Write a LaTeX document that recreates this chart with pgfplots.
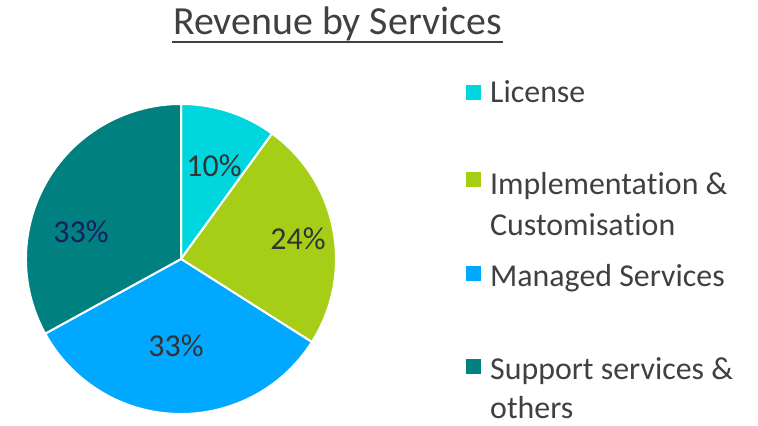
\documentclass[border=0pt]{standalone}
\usepackage{pgfplots}
\pgfplotsset{compat=1.18}
\usepackage{fontspec}
\setmainfont{Carlito}[RawFeature={-liga;-clig;-dlig;-rlig;-calt}]

\definecolor{lic}{HTML}{00D6DD}
\definecolor{imp}{HTML}{A6CE17}
\definecolor{man}{HTML}{00A8FF}
\definecolor{sup}{HTML}{00807F}
\definecolor{txt}{HTML}{404040}
\definecolor{pct}{HTML}{333333}
\definecolor{navy}{HTML}{1C1C60}

% slice: #1 share before it (%), #2 share (%), #3 colour; clockwise from the top
\newcommand{\pieslice}[3]{%
  \filldraw[fill=#3, draw=white, line width=2bp, line join=round]
    (axis cs:0,0) -- ++({90-3.6*(#1)}:155bp)
    arc[start angle={90-3.6*(#1)}, end angle={90-3.6*((#1)+(#2))}, radius=155bp]
    -- cycle;}

\begin{document}
\begin{tikzpicture}
\useasboundingbox (0,0) rectangle (758bp,426bp);

\begin{axis}[
  at={(181bp,167bp)}, anchor=center,
  x=155bp, y=155bp,
  xmin=-1, xmax=1, ymin=-1, ymax=1,
  hide axis, clip=false,
]
\pieslice{0}{10}{lic}
\pieslice{10}{24}{imp}
\pieslice{34}{33}{man}
\pieslice{67}{33}{sup}

\begin{scope}[font=\fontsize{32}{38}\selectfont]
\node[text=pct]  at (axis cs:0.213,0.600)  {10\%};
\node[text=pct]  at (axis cs:0.755,0.129)  {24\%};
\node[text=pct]  at (axis cs:-0.032,-0.561) {33\%};
\node[text=navy] at (axis cs:-0.645,0.174) {33\%};
\end{scope}
\end{axis}

% title
\node[anchor=base, text=txt, font=\fontsize{40}{46}\selectfont]
  at (337.5bp,391bp) {Revenue by Services};
\draw[txt, line width=2bp] (172bp,384bp) -- (503bp,384bp);

% legend
\begin{scope}[every node/.style={anchor=base west, text=txt, inner sep=0pt,
    font=\fontsize{32}{38}\selectfont}]
\fill[lic] (465.5bp,325.5bp) rectangle ++(15bp,15bp);
\node at (490bp,323bp) {License};
\fill[imp] (465.5bp,238.5bp) rectangle ++(15bp,15bp);
\node at (490bp,231bp) {Implementa\kern0pt tion \&};
\node at (490bp,190bp) {Customisa\kern0pt tion};
\fill[man] (465.5bp,144.5bp) rectangle ++(15bp,15bp);
\node at (490bp,139bp) {Managed Services};
\fill[sup] (465.5bp,51.5bp) rectangle ++(15bp,15bp);
\node at (490bp,46bp) {Support services \&};
\node at (490bp,8bp) {others};
\end{scope}
\end{tikzpicture}
\end{document}
